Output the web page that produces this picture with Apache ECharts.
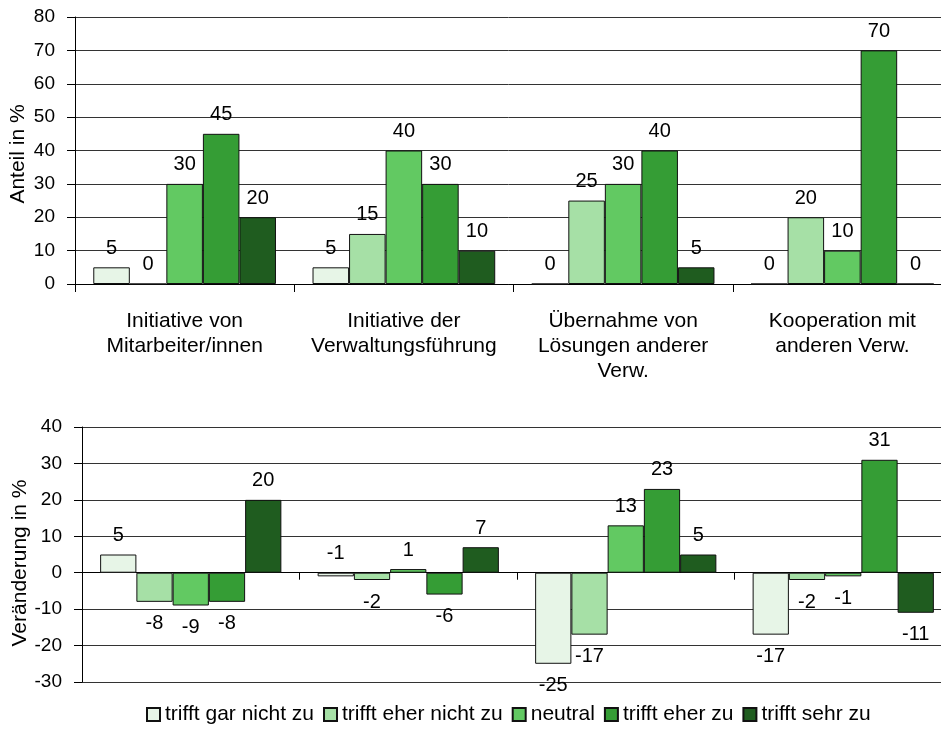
<!DOCTYPE html>
<html>
<head>
<meta charset="utf-8">
<script src="https://cdn.jsdelivr.net/npm/echarts@6/dist/echarts.min.js"></script>
<style>
  html, body { margin: 0; padding: 0; background: #fff; }
  #chart { width: 941px; height: 744px; }
</style>
</head>
<body>
<div id="chart"></div>
<script>
// Categories (shared by both panels)
const categories = [
  'Initiative von\nMitarbeiter/innen',
  'Initiative der\nVerwaltungsführung',
  'Übernahme von\nLösungen anderer\nVerw.',
  'Kooperation mit\nanderen Verw.'
];
const seriesNames = ['trifft gar nicht zu', 'trifft eher nicht zu', 'neutral', 'trifft eher zu', 'trifft sehr zu'];

// Upper panel: Anteil in %
const shareGarNicht  = [5, 5, 0, 0];
const shareEherNicht = [0, 15, 25, 20];
const shareNeutral   = [30, 40, 30, 10];
const shareEherZu    = [45, 30, 40, 70];
const shareSehrZu    = [20, 10, 5, 0];

// Lower panel: Veränderung in %
const changeGarNicht  = [5, -1, -25, -17];
const changeEherNicht = [-8, -2, -17, -2];
const changeNeutral   = [-9, 1, 13, -1];
const changeEherZu    = [-8, -6, 23, 31];
const changeSehrZu    = [20, 7, 5, -11];

// Value-axis tick labels
const shareTicks  = [0, 10, 20, 30, 40, 50, 60, 70, 80];
const changeTicks = [-30, -20, -10, 0, 10, 20, 30, 40];

const shareSeries  = [shareGarNicht, shareEherNicht, shareNeutral, shareEherZu, shareSehrZu];
const changeSeries = [changeGarNicht, changeEherNicht, changeNeutral, changeEherZu, changeSehrZu];

const colors = ['#e7f5e7', '#a6e0a6', '#62c962', '#359d35', '#1f5c1f'];
const FONT = '"Liberation Sans", Arial, sans-serif';

// labels of the lower panel that sit above the zero line although negative: [series, category]
const labelsAboveZero = [[0, 1]];

function valueAxis(gridIndex, ticks, name, nameGap, namePad) {
  return {
    type: 'value',
    gridIndex: gridIndex,
    min: ticks[0],
    max: ticks[ticks.length - 1],
    interval: ticks[1] - ticks[0],
    name: name,
    nameLocation: 'middle',
    nameGap: nameGap,
    nameMoveOverlap: false,
    nameTextStyle: { fontSize: 21, fontFamily: FONT, color: '#000', padding: [0, namePad, 0, 0] },
    axisLine: { show: true, lineStyle: { color: '#000', width: 1 } },
    axisTick: { show: true, length: 8, lineStyle: { color: '#000' } },
    axisLabel: { fontSize: 19, fontFamily: FONT, color: '#000', margin: 20 },
    splitLine: { show: true, lineStyle: { color: '#333', width: 1 } }
  };
}

const series = [];
shareSeries.forEach(function (vals, i) {
  series.push({
    name: seriesNames[i],
    type: 'bar',
    xAxisIndex: 0,
    yAxisIndex: 0,
    data: vals,
    barGap: '0%',
    barCategoryGap: '16.67%',
    itemStyle: { color: colors[i], borderColor: '#111', borderWidth: 1 },
    label: { show: true, position: 'top', distance: 9, fontSize: 20, fontFamily: FONT, color: '#000' }
  });
});
changeSeries.forEach(function (vals, i) {
  series.push({
    name: seriesNames[i],
    type: 'bar',
    xAxisIndex: 1,
    yAxisIndex: 1,
    data: vals.map(function (v, c) {
      const above = labelsAboveZero.some(function (p) { return p[0] === i && p[1] === c; });
      const up = v >= 0 || above;
      return { value: v, label: { position: up ? 'top' : 'bottom', distance: up ? 9 : 12 } };
    }),
    barGap: '0%',
    barCategoryGap: '16.67%',
    itemStyle: { color: colors[i], borderColor: '#111', borderWidth: 1 },
    label: { show: true, fontSize: 20, fontFamily: FONT, color: '#000' }
  });
});

const chart = echarts.init(document.getElementById('chart'), null, { renderer: 'canvas' });
chart.setOption({
  backgroundColor: '#fff',
  animation: false,
  textStyle: { fontFamily: FONT },
  grid: [
    { left: 75, top: 17, width: 877, height: 267, containLabel: false, outerBoundsMode: 'none' },
    { left: 82, top: 427, width: 870, height: 255, containLabel: false, outerBoundsMode: 'none' }
  ],
  xAxis: [
    {
      type: 'category',
      gridIndex: 0,
      data: categories,
      axisLine: { show: true, lineStyle: { color: '#000' } },
      axisTick: { show: true, length: 8, interval: 0, lineStyle: { color: '#000' } },
      axisLabel: { interval: 0, fontSize: 21, lineHeight: 25, margin: 25, fontFamily: FONT, color: '#000' },
      splitLine: { show: false }
    },
    {
      type: 'category',
      gridIndex: 1,
      data: categories,
      axisLine: { show: true, onZero: true, lineStyle: { color: '#000' } },
      axisTick: { show: true, length: 7, interval: 0, lineStyle: { color: '#000' } },
      axisLabel: { show: false },
      splitLine: { show: false }
    }
  ],
  yAxis: [
    valueAxis(0, shareTicks, 'Anteil in %', 46, 7),
    valueAxis(1, changeTicks, 'Veränderung in %', 51, 17)
  ],
  legend: {
    data: seriesNames,
    left: 141,
    bottom: 14,
    icon: 'rect',
    itemWidth: 13,
    itemHeight: 13,
    itemGap: 9,
    textStyle: { fontSize: 21, fontFamily: FONT, color: '#000' }
  },
  series: series
});
</script>
</body>
</html>
